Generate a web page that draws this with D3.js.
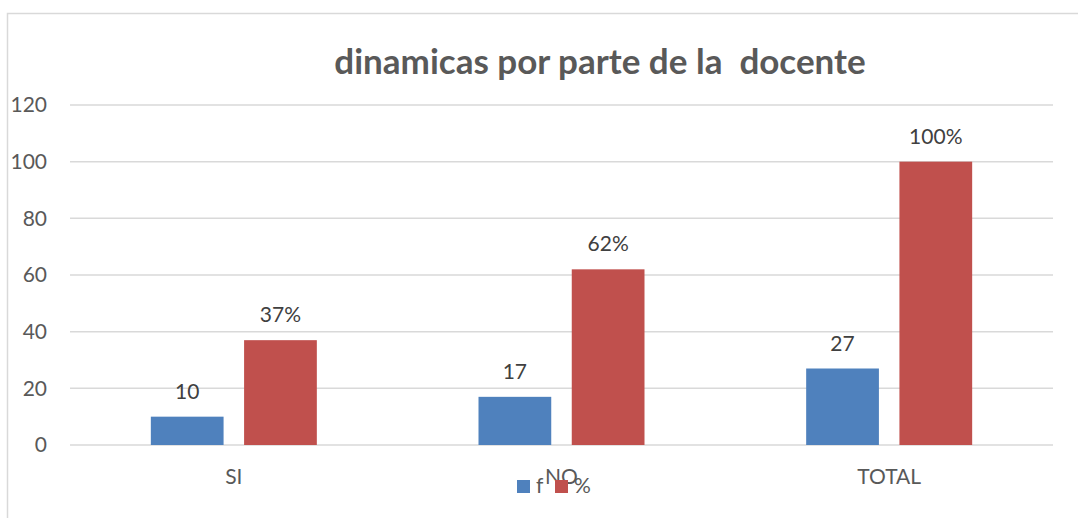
<!DOCTYPE html>
<html>
<head>
<meta charset="utf-8">
<script src="https://cdn.jsdelivr.net/npm/d3@7"></script>
<style>
  body { margin: 0; background: #fff; }
  svg { display: block; font-family: Lato, "Open Sans", sans-serif; }
</style>
</head>
<body>
<div id="chart"></div>
<script>
const categories = ['SI', 'NO', 'TOTAL'];
const seriesNames = ['f', '%'];
const fValues = [10, 17, 27];
const pctValues = [37, 62, 100];
const pctLabels = ['37%', '62%', '100%'];
const yTicks = [0, 20, 40, 60, 80, 100, 120];

const WIDTH = 1078;
const HEIGHT = 518;
const COLORS = ['#4f81bd', '#c0504d'];

const svg = d3.select('#chart')
    .append('svg')
    .attr('width', WIDTH)
    .attr('height', HEIGHT);

// chart frame (right and bottom edges fall outside the picture)
svg.append('rect')
    .attr('x', 7.5).attr('y', 13.5)
    .attr('width', 1100).attr('height', 540)
    .attr('fill', 'none')
    .attr('stroke', '#d9d9d9')
    .attr('stroke-width', 1.5);

const plot = {left: 70, right: 1053, top: 105, bottom: 445};

const y = d3.scaleLinear().domain([0, 120]).range([plot.bottom, plot.top]);
const x0 = d3.scaleBand().domain(categories).range([plot.left, plot.right]).paddingInner(0).paddingOuter(0);
const x1 = d3.scaleBand().domain(seriesNames).range([0, 166]).paddingInner(0.22);
const offset = (x0.bandwidth() - 166) / 2;

// gridlines
svg.append('g')
    .selectAll('line')
    .data(yTicks)
    .join('line')
    .attr('x1', plot.left).attr('x2', plot.right)
    .attr('y1', d => y(d)).attr('y2', d => y(d))
    .attr('stroke', '#d9d9d9')
    .attr('stroke-width', 1.5);

// y axis labels
const yAxis = d3.axisLeft(y).tickValues(yTicks).tickSize(0).tickPadding(0);
const gy = svg.append('g')
    .attr('transform', `translate(47,0)`)
    .call(yAxis);
gy.select('.domain').remove();
gy.selectAll('text')
    .attr('fill', '#595959')
    .style('font-family', 'Lato, sans-serif')
    .style('font-size', '21px');

// x axis labels
const xAxis = d3.axisBottom(x0).tickSize(0).tickPadding(0);
const gx = svg.append('g')
    .attr('transform', `translate(0,${plot.bottom + 24})`)
    .call(xAxis);
gx.select('.domain').remove();
gx.selectAll('text')
    .attr('fill', '#595959')
    .style('font-family', 'Lato, sans-serif')
    .style('font-size', '21px');

// bars
const rows = categories.map((c, i) => ({
    cat: c,
    vals: [
        {key: 'f', v: fValues[i], label: String(fValues[i])},
        {key: '%', v: pctValues[i], label: pctLabels[i]}
    ]
}));

const groups = svg.append('g')
    .selectAll('g')
    .data(rows)
    .join('g')
    .attr('transform', d => `translate(${x0(d.cat) + offset},0)`);

groups.selectAll('rect')
    .data(d => d.vals)
    .join('rect')
    .attr('x', d => x1(d.key))
    .attr('width', x1.bandwidth())
    .attr('y', d => y(d.v))
    .attr('height', d => y(0) - y(d.v))
    .attr('fill', (d, i) => COLORS[i]);

groups.selectAll('text')
    .data(d => d.vals)
    .join('text')
    .attr('x', d => x1(d.key) + x1.bandwidth() / 2)
    .attr('y', d => y(d.v) - 18)
    .attr('text-anchor', 'middle')
    .attr('fill', '#404040')
    .style('font-size', '21px')
    .text(d => d.label);

// title
svg.append('text')
    .attr('x', 600)
    .attr('y', 74)
    .attr('text-anchor', 'middle')
    .attr('fill', '#595959')
    .style('font-size', '35px')
    .style('font-weight', 'bold')
    .style('white-space', 'pre')
    .text('dinamicas por parte de la  docente');

// legend
const legend = svg.append('g')
    .attr('transform', 'translate(517,480)');
const items = legend.selectAll('g')
    .data(seriesNames)
    .join('g')
    .attr('transform', (d, i) => `translate(${i * 38},0)`);
items.append('rect')
    .attr('width', 13).attr('height', 13)
    .attr('fill', (d, i) => COLORS[i]);
items.append('text')
    .attr('x', 19).attr('y', 13)
    .attr('fill', '#595959')
    .style('font-size', '21px')
    .text(d => d);
</script>
</body>
</html>
